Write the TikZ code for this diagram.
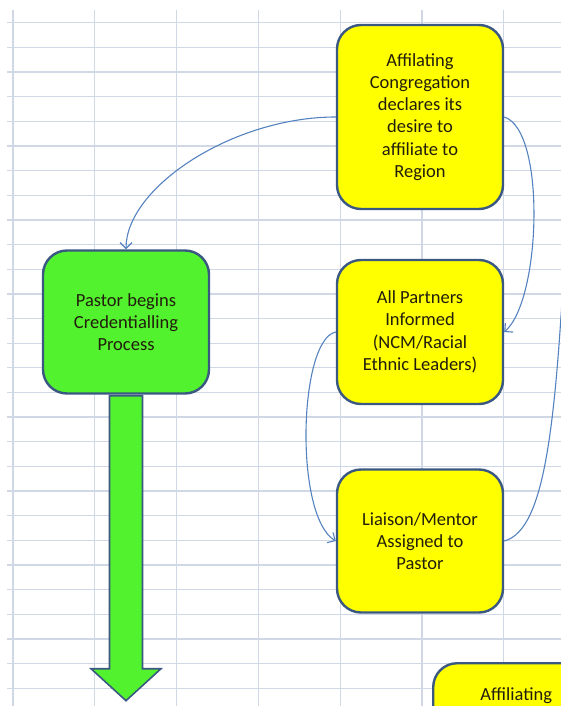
\documentclass[tikz,border=0pt]{standalone}
\usepackage{fontspec}
\setmainfont{Carlito}
\usepackage{xcolor}
\usepackage{tikz}
\usetikzlibrary{calc}
\usetikzlibrary{arrows.meta}
\definecolor{gridblue}{RGB}{208,215,229}
\definecolor{boxyellow}{RGB}{255,255,0}
\definecolor{boxgreen}{RGB}{82,242,46}
\definecolor{boxedge}{RGB}{58,88,130}
\definecolor{linkblue}{RGB}{84,130,190}
\definecolor{textdark}{RGB}{34,30,12}
\tikzset{
  gridline/.style={draw=gridblue, line width=1.3pt},
  flowbox/.style={draw=boxedge, line width=2.4pt, rounded corners=24pt, minimum width=166pt, align=center, text=textdark, font=\fontsize{18.5}{22.3}\selectfont},
  ybox/.style={flowbox, fill=boxyellow},
  gbox/.style={flowbox, fill=boxgreen},
  link/.style={draw=linkblue, line width=1.1pt, -{Straight Barb[length=6pt,width=12pt]}}
}

\begin{document}
\begin{tikzpicture}[x=1pt,y=-1pt]
        %FRAME
        \useasboundingbox (0,0) rectangle (561,706);
        \clip (0,0) rectangle (561,706);
        %GRID
        \foreach \k in {0,...,27} \draw[gridline] (7,22.7+24.65*\k) -- (561,22.7+24.65*\k);
        \foreach \k in {0,...,6} \draw[gridline] (13+81.8*\k,10) -- (13+81.8*\k,706);
        %BOXES
        \node[ybox, minimum height=184pt] (A) at (420,117) {Affilating\\Congregation\\declares its\\desire to\\affiliate to\\Region};
        \node[ybox, minimum height=144pt] (B) at (420,332) {All Partners\\Informed\\(NCM/Racial\\Ethnic Leaders)};
        \node[ybox, minimum height=143pt] (C) at (420,541) {Liaison/Mentor\\Assigned to\\Pastor};
        \node[gbox, minimum height=143pt] (D) at (126,322) {Pastor begins\\Credentialling\\Process};
        \node[ybox, minimum height=144pt, anchor=north west] (E) at (432,662) {};
        \node[flowbox, draw=none, rounded corners=0pt, minimum width=0pt] (Etext) at ([yshift=-34pt]E.north) {Affiliating};
        %BIG ARROW
        \draw[fill=boxgreen, draw=boxedge, line width=1.6pt] ($(D.south)+(-16.5,1)$) -- ++(0,273) -- ++(-18.5,0) -- ($(D.south)+(0,306)$) -- ($(D.south)+(35,274)$) -- ++(-18.5,0) -- ($(D.south)+(16.5,1)$) -- cycle;
        %CONNECTORS
        \coordinate (off) at (566,230);
        \draw[link] (A.west) .. controls +(-103,0) and +(0,-62) .. (D.north);
        \draw[link] (A.east) .. controls +(42,13) and +(37,-32) .. (B.east);
        \draw[link] (B.west) .. controls +(-37,7) and +(-42,-25) .. (C.west);
        \draw[draw=linkblue, line width=1.1pt] (C.east) .. controls +(42,-11) and +(-10,190) .. (off);
    \end{tikzpicture}
\end{document}
